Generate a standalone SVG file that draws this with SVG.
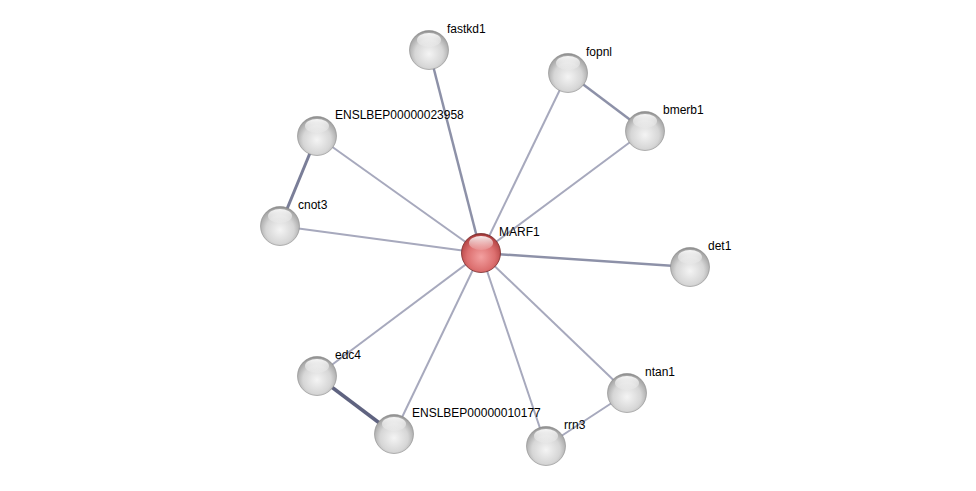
<svg xmlns="http://www.w3.org/2000/svg" width="976" height="491" viewBox="0 0 976 491">
<defs>
<radialGradient id="gg" cx="0.5" cy="0.6" r="0.6">
<stop offset="0" stop-color="#f4f4f4"/>
<stop offset="0.6" stop-color="#d6d6d6"/>
<stop offset="0.9" stop-color="#a8a8a8"/>
<stop offset="1" stop-color="#888"/>
</radialGradient>
<radialGradient id="rg" cx="0.5" cy="0.6" r="0.6">
<stop offset="0" stop-color="#f3a0a0"/>
<stop offset="0.6" stop-color="#dc6f6f"/>
<stop offset="0.9" stop-color="#b84848"/>
<stop offset="1" stop-color="#8e3030"/>
</radialGradient>
<linearGradient id="hl" x1="0" y1="0" x2="0" y2="1">
<stop offset="0" stop-color="#fff" stop-opacity="0.9"/>
<stop offset="1" stop-color="#fff" stop-opacity="0.1"/>
</linearGradient>
<g id="ball">
<circle r="19.5" fill="url(#gg)" stroke="#8a8a8a" stroke-width="0.6"/>
<ellipse cx="0" cy="-10" rx="12" ry="7" fill="url(#hl)"/>
</g>
</defs>
<style>
.e{stroke:#a7a9bd;stroke-width:2;fill:none}
.e2{stroke:#8d91a8;stroke-width:2.5;fill:none}
.e3{stroke:#5f6380;stroke-width:3.5;fill:none}
text{font-family:"Liberation Sans",Arial,sans-serif;font-size:12px;fill:#000}
</style>
<rect width="976" height="491" fill="#fff"/>
<g id="edges">
<line class="e2" x1="481" y1="253" x2="429" y2="50"/>
<line class="e" x1="481" y1="253" x2="568" y2="73"/>
<line class="e" x1="481" y1="253" x2="645" y2="131"/>
<line class="e" x1="481" y1="253" x2="317" y2="136"/>
<line class="e" x1="481" y1="253" x2="280" y2="226"/>
<line class="e2" x1="481" y1="253" x2="690" y2="267"/>
<line class="e" x1="481" y1="253" x2="317" y2="376"/>
<line class="e" x1="481" y1="253" x2="394" y2="434"/>
<line class="e" x1="481" y1="253" x2="546" y2="446"/>
<line class="e" x1="481" y1="253" x2="627" y2="393"/>
<line class="e2" x1="568" y1="73" x2="645" y2="131"/>
<line class="e2" x1="317" y1="136" x2="280" y2="226" style="stroke:#7a7e98;stroke-width:3"/>
<line class="e3" x1="317" y1="376" x2="394" y2="434"/>
<line class="e" x1="546" y1="446" x2="627" y2="393"/>
</g>
<g id="fastkd1"><use href="#ball" x="429" y="50"/><text x="447" y="33">fastkd1</text></g>
<g id="fopnl"><use href="#ball" x="568" y="73"/><text x="586" y="56">fopnl</text></g>
<g id="bmerb1"><use href="#ball" x="645" y="131"/><text x="663" y="114">bmerb1</text></g>
<g id="ENSLBEP00000023958"><use href="#ball" x="317" y="136"/><text x="335" y="119">ENSLBEP00000023958</text></g>
<g id="cnot3"><use href="#ball" x="280" y="226"/><text x="298" y="209">cnot3</text></g>
<g id="det1"><use href="#ball" x="690" y="267"/><text x="708" y="250">det1</text></g>
<g id="edc4"><use href="#ball" x="317" y="376"/><text x="335" y="359">edc4</text></g>
<g id="ENSLBEP00000010177"><use href="#ball" x="394" y="434"/><text x="412" y="417">ENSLBEP00000010177</text></g>
<g id="rrn3"><use href="#ball" x="546" y="446"/><text x="564" y="429">rrn3</text></g>
<g id="ntan1"><use href="#ball" x="627" y="393"/><text x="645" y="376">ntan1</text></g>
<g id="MARF1">
<circle cx="481" cy="253" r="19.5" fill="url(#rg)" stroke="#7a2a2a" stroke-width="0.8"/>
<ellipse cx="481" cy="243" rx="12" ry="7" fill="url(#hl)"/>
<text x="499" y="236">MARF1</text>
</g>
</svg>
